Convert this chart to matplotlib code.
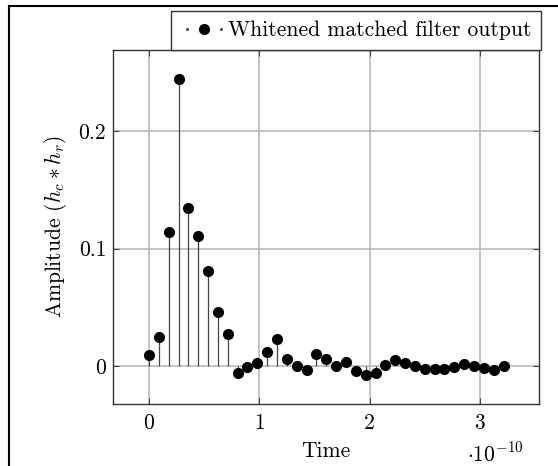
import numpy as np
import matplotlib
matplotlib.use("Agg")
import matplotlib.pyplot as plt
from matplotlib.lines import Line2D
from matplotlib.legend_handler import HandlerLine2D, HandlerTuple

# ---- data ----
dt = 0.0893e-10  # sample spacing (s)
amplitude = [0.0091, 0.0250, 0.1143, 0.2440, 0.1342, 0.1109, 0.0811, 0.0462,
             0.0272, -0.0060, -0.0007, 0.0022, 0.0121, 0.0232, 0.0063, 0.0000,
             -0.0037, 0.0102, 0.0063, 0.0000, 0.0037, -0.0045, -0.0079, -0.0057,
             0.0006, 0.0048, 0.0026, -0.0003, -0.0028, -0.0028, -0.0028, -0.0005,
             0.0020, 0.0000, -0.0020, -0.0037, 0.0000]
time = np.arange(len(amplitude)) * dt
xticks = [0, 1, 2, 3]
yticks = [0, 0.1, 0.2]
legend_label = "Whitened matched filter output"

plt.rcParams['font.family'] = ['cmr10', 'DejaVu Serif']
plt.rcParams['mathtext.fontset'] = 'cm'
plt.rcParams['axes.unicode_minus'] = False
plt.rcParams['axes.formatter.use_mathtext'] = True

FS = 15.5

fig = plt.figure(figsize=(5.58, 4.66), dpi=100)
ax = fig.add_axes([113/558, 1-404/466, (539-113)/558, (404-50)/466])

t = np.asarray(time) * 1e10
y = np.asarray(amplitude)
ax.vlines(t, 0, y, colors='#444444', linewidth=0.9, zorder=3)
ax.plot(t, y, 'o', color='black', markersize=7.0, zorder=4)

ax.set_xlim(-0.326, 3.536)
ax.set_ylim(-0.0323, 0.269)
ax.set_xticks(xticks)
ax.set_yticks(yticks)
ax.set_xticklabels([str(v) for v in xticks])
ax.set_yticklabels(['0', '0.1', '0.2'])
ax.grid(True, color='#b4b4b4', linewidth=1.1)
ax.set_axisbelow(True)
ax.tick_params(direction='in', length=4, width=0.8, color='#444444',
               top=True, right=True, labelsize=FS)
ax.tick_params(axis='x', pad=7)
ax.tick_params(axis='y', pad=5)
for s in ax.spines.values():
    s.set_color('#333333')
    s.set_linewidth(1.0)

ax.set_xlabel('Time', fontsize=FS, labelpad=6)
ax.set_ylabel(r'Amplitude ($h_c * h_r$)', fontsize=FS, labelpad=7)

fig.text(467/558, 1-462/466, r'$\cdot 10^{-10}$', fontsize=FS, ha='left', va='baseline')

small = Line2D([], [], color='#555555', marker='o', markersize=1.3, linestyle='none')
big = Line2D([], [], color='black', marker='o', markersize=7.0, linestyle='none')
leg = ax.legend([(small, big)], [legend_label], loc='lower right',
                bbox_to_anchor=(1.005, 1.0), borderaxespad=0, fontsize=15.5,
                fancybox=False, framealpha=1, edgecolor='#333333',
                handler_map={small: HandlerLine2D(numpoints=2),
                             tuple: HandlerTuple(ndivide=1)},
                handlelength=2.2, handletextpad=0.0, borderpad=0.45)
leg.get_frame().set_linewidth(1.0)

fig.add_artist(Line2D([9/558, 1.0], [1-6/466, 1-6/466], color='black', linewidth=1.5, transform=fig.transFigure))
fig.add_artist(Line2D([9/558, 9/558], [0, 1-6/466], color='black', linewidth=1.5, transform=fig.transFigure))

fig.savefig('out.png', dpi=100)
